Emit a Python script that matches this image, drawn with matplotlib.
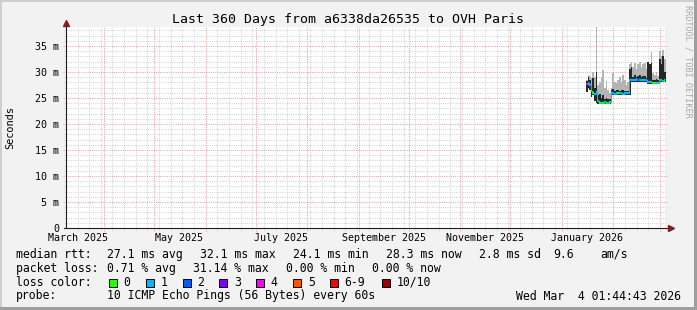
import matplotlib
matplotlib.use("Agg")
import matplotlib.pyplot as plt
import matplotlib.dates as mdates
from matplotlib.patches import Rectangle
from datetime import datetime, timedelta

# ---------------- data ----------------
title = "Last 360 Days from a6338da26535 to OVH Paris"
t_start = datetime(2025, 3, 9, 1, 44, 43)
t_end = datetime(2026, 3, 4, 1, 44, 43)

data_start = datetime(2026, 1, 15, 12)   # one value per day from here
median_ms = [27.6, 27.8, 27.5, 26.3, 26.0, 25.8, 26.2, 24.5, 24.1, 24.1,
             24.0, 24.2, 24.0, 24.1, 24.3, 25.9, 25.9, 25.8, 25.9, 25.9,
             26.0, 25.9, 25.8, 25.9, 25.9, 25.9, 28.4, 28.5, 28.5, 28.5,
             28.6, 28.5, 28.5, 28.4, 28.5, 28.5, 28.5, 28.1, 28.1, 28.1,
             27.9, 27.9, 27.9, 27.9, 28.4, 28.5, 28.3, 28.4]
smoke_min_ms = [26.2, 27.0, 26.5, 25.2, 25.5, 24.5, 24.0, 23.8, 23.8, 23.8,
                23.8, 23.8, 23.8, 23.8, 23.8, 25.6, 25.6, 25.6, 25.6, 25.6,
                25.6, 25.6, 25.6, 25.6, 25.6, 25.6, 25.6, 28.0, 28.0, 28.0,
                28.0, 28.0, 28.0, 28.0, 28.0, 28.0, 28.0, 27.6, 27.6, 27.6,
                27.6, 27.6, 27.6, 27.6, 28.0, 28.0, 28.0, 28.0]
smoke_dark_ms = [28.2, 29.0, 28.5, 27.5, 28.8, 27.0, 30.0, 25.5, 25.8, 25.0,
                 25.5, 24.8, 25.0, 24.8, 24.8, 26.5, 26.8, 26.3, 26.5, 26.6,
                 26.4, 26.5, 26.6, 26.4, 26.3, 26.4, 30.5, 31.0, 29.0, 29.5,
                 29.0, 29.2, 29.5, 29.0, 29.3, 29.2, 28.8, 32.0, 31.5, 31.8,
                 28.5, 28.4, 28.6, 28.5, 32.5, 31.5, 33.0, 30.0]
smoke_max_ms = [28.5, 29.5, 29.2, 28.8, 30.0, 29.0, 38.7, 27.5, 28.0, 29.0,
                30.4, 27.0, 28.2, 26.5, 26.0, 27.0, 29.8, 28.0, 27.8, 28.5,
                29.0, 28.0, 29.5, 28.5, 27.5, 28.0, 31.5, 32.0, 31.0, 31.8,
                30.5, 31.5, 32.0, 30.8, 31.5, 31.8, 30.5, 32.0, 31.5, 33.9,
                29.8, 29.5, 30.0, 29.2, 34.0, 33.0, 34.2, 32.5]
loss_count = [4, 1, 1, 1, 0, 1, 1, 1, 0, 1,
              0, 1, 0, 1, 0, 1, 1, 1, 1, 0,
              1, 1, 1, 1, 1, 1, 1, 1, 1, 1,
              1, 2, 1, 1, 1, 1, 1, 1, 1, 1,
              0, 0, 1, 0, 1, 1, 1, 0]

y_max = 38.65
ytick_values = [0, 5, 10, 15, 20, 25, 30, 35]
ytick_labels = ["0", "5 m", "10 m", "15 m", "20 m", "25 m", "30 m", "35 m"]
xlabel_dates = [datetime(2025, 3, 16), datetime(2025, 5, 16), datetime(2025, 7, 16),
                datetime(2025, 9, 16), datetime(2025, 11, 16), datetime(2026, 1, 16)]
xlabel_texts = ["March 2025", "May 2025", "July 2025", "September 2025",
                "November 2025", "January 2026"]

loss_colors = ["#26ff00", "#00b8ff", "#0059ff", "#7e00ff", "#ff00ff",
               "#ff5500", "#ff0000", "#a10000"]
loss_labels = ["0", "1", "2", "3", "4", "5", "6-9", "10/10"]

legend_rtt = [("median rtt:", 16), ("27.1 ms avg", 107.3), ("32.1 ms max", 200),
              ("24.1 ms min", 293.3), ("28.3 ms now", 386), ("2.8 ms sd", 479.3),
              ("9.6", 553.3), ("am/s", 600)]
legend_loss = [("packet loss:", 16), ("0.71 % avg", 107.3), ("31.14 % max", 193.3),
               ("0.00 % min", 286), ("0.00 % now", 372.3)]
probe_text = "10 ICMP Echo Pings (56 Bytes) every 60s"
stamp_text = "Wed Mar  4 01:44:43 2026"

# ---------------- figure ----------------
W, H = 697, 310
fig = plt.figure(figsize=(W / 100, H / 100), dpi=100)
fig.patch.set_facecolor("#F2F2F2")
MONO = "DejaVu Sans Mono"

def fx(px):
    return px / W

def fy(py):
    return 1 - py / H

# frame shading
fig.add_artist(Rectangle((0, fy(2)), 1, 2 / H, transform=fig.transFigure, color="#CFCFCF", lw=0))
fig.add_artist(Rectangle((0, 0), 2 / W, 1, transform=fig.transFigure, color="#CFCFCF", lw=0))
fig.add_artist(Rectangle((0, 0), 1, 3 / H, transform=fig.transFigure, color="#9E9E9E", lw=0))
fig.add_artist(Rectangle((fx(W - 3), 0), 3 / W, 1, transform=fig.transFigure, color="#9E9E9E", lw=0))

L, R, T, B = 66, 665, 27, 228
ax = fig.add_axes([fx(L), fy(B), (R - L) / W, (B - T) / H])
ax.set_facecolor("white")
ax.set_xlim(t_start, t_end)
ax.set_ylim(0, y_max)
for s in ax.spines.values():
    s.set_visible(False)

px_w = R - L
px_h = B - T
MINOR = "#D2D2D2"
MAJOR = "#F2A0A0"
gkw = dict(lw=0.72, ls=(0, (1, 1.2)), clip_on=False)

# grid: weekly minor (Sundays), monthly major
d = datetime(2025, 3, 16)
while d < t_end:
    if d.day != 1:
        ax.axvline(d, ymin=-2 / px_h, ymax=1, color=MINOR, zorder=1, **gkw)
    d += timedelta(days=7)
for yy in range(2025 * 12 + 3, 2026 * 12 + 3):
    md = datetime(yy // 12, yy % 12 + 1, 1)
    if t_start < md < t_end:
        ax.axvline(md, ymin=-3 / px_h, ymax=1, color=MAJOR, zorder=1.2, **gkw)
for v in range(1, 39):
    if v % 5:
        ax.axhline(v, xmin=-2 / px_w, xmax=1 + 2 / px_w, color=MINOR, zorder=1, **gkw)
for v in ytick_values[1:]:
    ax.axhline(v, xmin=-3 / px_w, xmax=1 + 2 / px_w, color=MAJOR, zorder=1.2, **gkw)

# data
n = len(median_ms)
edges = [data_start + timedelta(days=i) for i in range(n + 1)]
ext = lambda a: list(a) + [a[-1]]
ax.fill_between(edges, ext(smoke_min_ms), ext(smoke_dark_ms), step="post",
                color="#262626", lw=0, zorder=3)
ax.fill_between(edges, ext(smoke_dark_ms), ext(smoke_max_ms), step="post",
                color="#B4B4B4", lw=0, zorder=3)

def loss_col(c):
    if c <= 5:
        return loss_colors[c]
    if c < 10:
        return loss_colors[6]
    return loss_colors[7]

for i in range(n):
    col = loss_col(loss_count[i])
    ax.plot([edges[i], edges[i + 1]], [median_ms[i], median_ms[i]], color=col,
            lw=1.6, solid_capstyle="butt", zorder=4)
    if i + 1 < n:
        ax.plot([edges[i + 1], edges[i + 1]], [median_ms[i], median_ms[i + 1]],
                color=loss_col(loss_count[i + 1]), lw=0.8, zorder=4)

# axes lines + arrows
ax.plot([-2 / px_w, 1 + 6 / px_w], [0, 0], transform=ax.transAxes, color="#1F1F1F",
        lw=0.8, clip_on=False, zorder=5)
ax.plot([0, 0], [0, 1 + 2 / px_h], transform=ax.transAxes, color="#1F1F1F",
        lw=0.8, clip_on=False, zorder=5)
ax.plot([1 + 6 / px_w], [0], transform=ax.transAxes, marker=">", ms=4.2,
        color="#801F1F", mec="#801F1F", clip_on=False, zorder=6)
ax.plot([0], [1 + 4 / px_h], transform=ax.transAxes, marker="^", ms=4.2,
        color="#801F1F", mec="#801F1F", clip_on=False, zorder=6)

# ticks / labels
ax.set_yticks(ytick_values)
ax.set_yticklabels(ytick_labels, family=MONO, fontsize=7.2)
ax.set_xticks(xlabel_dates)
ax.set_xticklabels(xlabel_texts, family=MONO, fontsize=7.2)
ax.tick_params(axis="both", length=0)
ax.tick_params(axis="y", pad=5)
ax.tick_params(axis="x", pad=3.5)
ax.set_ylabel("Seconds", family=MONO, fontsize=7.4)
ax.yaxis.set_label_coords(-(L - 15.5) / px_w, 0.5)

# title and watermark
fig.text(fx(348), fy(19), title, family=MONO, fontsize=9.5, ha="center", va="center")
fig.text(fx(688), fy(5), "RRDTOOL / TOBI OETIKER", family=MONO, fontsize=6.1,
         color="#A8A8A8", rotation=270, ha="center", va="top")

# legend
FS = 8.3
for txt, x in legend_rtt:
    fig.text(fx(x), fy(254.3), txt, family=MONO, fontsize=FS, va="center")
for txt, x in legend_loss:
    fig.text(fx(x), fy(268.3), txt, family=MONO, fontsize=FS, va="center")
fig.text(fx(16), fy(282.3), "loss color:", family=MONO, fontsize=FS, va="center")
box_x = [108.7, 145.7, 182.7, 219.3, 256.3, 293.3, 330.0, 381.7]
for bx, col, lab in zip(box_x, loss_colors, loss_labels):
    fig.add_artist(Rectangle((fx(bx), fy(286.5)), 8 / W, 8 / H, transform=fig.transFigure,
                             facecolor=col, edgecolor="black", lw=0.7))
    fig.text(fx(bx + 14.5), fy(282.3), lab, family=MONO, fontsize=FS, va="center")
fig.text(fx(16), fy(296), "probe:", family=MONO, fontsize=FS, va="center")
fig.text(fx(107.3), fy(296), probe_text, family=MONO, fontsize=FS, va="center")
fig.text(fx(680.5), fy(296), stamp_text, family=MONO, fontsize=FS, va="center", ha="right")

fig.savefig("out.png", dpi=100, facecolor=fig.get_facecolor())
